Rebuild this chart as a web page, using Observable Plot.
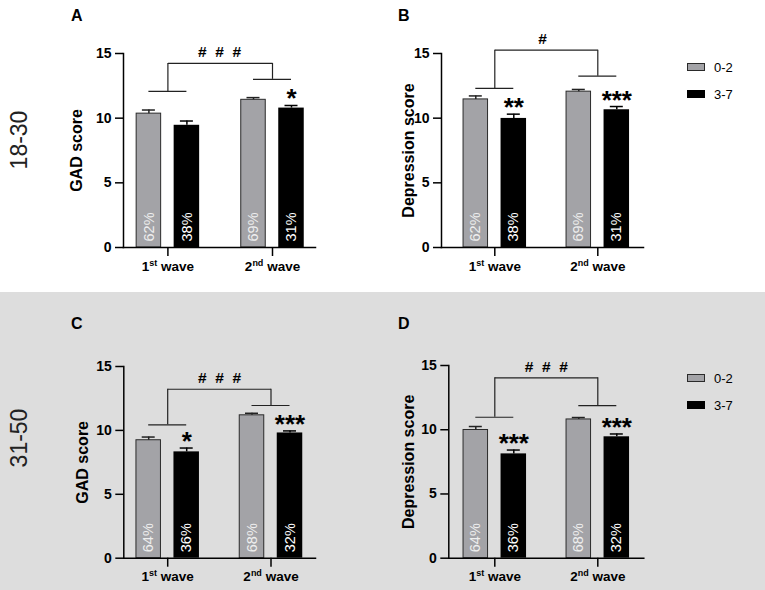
<!DOCTYPE html>
<html>
<head>
<meta charset="utf-8">
<script src="https://cdn.jsdelivr.net/npm/d3@7"></script>
<script src="https://cdn.jsdelivr.net/npm/@observablehq/plot@0.6"></script>
<style>
  body { margin: 0; background: #fff; font-family: "Liberation Sans", Arial, sans-serif; }
  #root { position: relative; width: 765px; height: 590px; overflow: hidden; }
  .band { position: absolute; left: 0; top: 292px; width: 765px; height: 298px; background: #dddddd; }
  .panel { position: absolute; }
  .letter { position: absolute; font-weight: bold; font-size: 16px; line-height: 16px; color: #000; }
  .row { position: absolute; font-size: 23px; line-height: 23px; white-space: nowrap; color: #222;
         transform: translate(-50%, -50%) rotate(-90deg); }
  .sw { position: absolute; width: 18px; height: 8px; box-sizing: border-box; }
  .lt { position: absolute; font-size: 13px; line-height: 13px; color: #000; transform: translateY(-50%); }
  g[aria-label="y-axis label"] text { font-size: 16px; }
</style>
</head>
<body>
<div id="root"><div class="band"></div></div>
<script>
// ---------- data ----------
const waves = ["1st wave", "2nd wave"];
const groups = ["0-2", "3-7"];
const groupColors = ["#a3a3a7", "#000000"];
const ageGroups = ["18-30", "31-50"];
const panelLetters = ["A", "B", "C", "D"];
const yLabels = ["GAD score", "Depression score", "GAD score", "Depression score"];
const yTicks = [0, 5, 10, 15];
// per panel, per wave
const mean02 = [[10.35, 11.42], [11.45, 12.05], [9.23, 11.18], [9.98, 10.80]];
const se02   = [[0.28, 0.17], [0.27, 0.17], [0.25, 0.16], [0.27, 0.15]];
const mean37 = [[9.45, 10.78], [9.98, 10.65], [8.32, 9.80], [8.12, 9.45]];
const se37   = [[0.33, 0.20], [0.33, 0.25], [0.30, 0.16], [0.30, 0.22]];
const pct02  = [["62%", "69%"], ["62%", "69%"], ["64%", "68%"], ["64%", "68%"]];
const pct37  = [["38%", "31%"], ["38%", "31%"], ["36%", "32%"], ["36%", "32%"]];
const stars37 = [["", "*"], ["**", "***"], ["*", "***"], ["***", "***"]];
const bracketWave = [[12.07, 13.0], [12.3, 13.25], [10.44, 11.95], [10.97, 11.88]];
const bracketTop = [14.23, 15.26, 13.22, 14.04];
const waveEffect = ["#\u00a0\u00a0#\u00a0\u00a0#", "#", "#\u00a0\u00a0#\u00a0\u00a0#", "#\u00a0\u00a0#\u00a0\u00a0#"];

// ---------- layout (pixels) ----------
const layout = [
  {left: 0,   top: 0,   width: 380, height: 280, mt: 53, mb: 33,   ax: 123,   end: 315,   c1: 167.4, c2: 272,   labelOffset: 53},
  {left: 380, top: 0,   width: 385, height: 280, mt: 53, mb: 33,   ax: 441,   end: 643,   c1: 494.3, c2: 597.3, labelOffset: 39},
  {left: 0,   top: 280, width: 380, height: 310, mt: 86, mb: 32.3, ax: 123.3, end: 315,   c1: 167.2, c2: 270.5, labelOffset: 47},
  {left: 380, top: 280, width: 385, height: 310, mt: 85, mb: 32.3, ax: 448.3, end: 643.3, c1: 494.3, c2: 597.3, labelOffset: 46.6}
];
const letterPos = [[71, 8], [398, 8], [71, 316], [398, 316]];
const rowPos = [[19, 140], [19, 438]];
const legendPos = [null, [687, 63], null, [687, 374]];
const bw = 25.5, off = 19, cap = 13;

const root = document.getElementById("root");
const font = "'Liberation Sans', Arial, sans-serif";

function bandOptions(L) {
  const step = L.c2 - L.c1;
  const oL = L.c1 - L.ax - bw / 2, oR = L.end - L.c2 - bw / 2;
  return {paddingInner: 1 - bw / step, paddingOuter: (oL + oR) / (2 * step), align: oL / (oL + oR)};
}

layout.forEach((L, p) => {
  const rows = waves.flatMap((w, i) => [
    {wave: w, group: groups[0], mean: mean02[p][i], se: se02[p][i], pct: pct02[p][i], star: ""},
    {wave: w, group: groups[1], mean: mean37[p][i], se: se37[p][i], pct: pct37[p][i], star: stars37[p][i]}
  ]);
  const low = rows.filter(d => d.group === groups[0]);
  const high = rows.filter(d => d.group === groups[1]);
  const top = bracketTop[p];
  const brackets = waves.map((w, i) => ({wave: w, level: bracketWave[p][i], top}));
  const ext = -(2 * off - bw) / 2;
  const capIn = (bw - cap) / 2;

  const svg = Plot.plot({
    width: L.width,
    height: L.height,
    marginLeft: L.ax - L.left,
    marginRight: L.left + L.width - L.end,
    marginTop: L.mt,
    marginBottom: L.mb,
    style: {background: "transparent", overflow: "visible", fontFamily: font},
    x: {type: "band", domain: waves, round: false, ...bandOptions(L)},
    y: {domain: [0, 15]},
    color: {domain: groups, range: groupColors},
    marks: [
      Plot.barY(low, {x: "wave", y: "mean", fill: "group", dx: -off, stroke: "#2a2a2a", strokeWidth: 1, insetLeft: 0.5, insetRight: 0.5}),
      Plot.barY(high, {x: "wave", y: "mean", fill: "group", dx: off}),
      Plot.ruleX(low, {x: "wave", y1: "mean", y2: d => d.mean + d.se, dx: -off, stroke: "#222", strokeWidth: 1.5}),
      Plot.tickY(low, {x: "wave", y: d => d.mean + d.se, dx: -off, insetLeft: capIn, insetRight: capIn, stroke: "#222", strokeWidth: 1.5}),
      Plot.ruleX(high, {x: "wave", y1: "mean", y2: d => d.mean + d.se, dx: off, stroke: "#000", strokeWidth: 1.5}),
      Plot.tickY(high, {x: "wave", y: d => d.mean + d.se, dx: off, insetLeft: capIn, insetRight: capIn, stroke: "#000", strokeWidth: 1.5}),
      Plot.text(low, {x: "wave", text: "pct", frameAnchor: "bottom", rotate: -90, textAnchor: "start", lineAnchor: "middle", dx: -off, dy: -6, fill: "#eeeeee", fontSize: 14.5}),
      Plot.text(high, {x: "wave", text: "pct", frameAnchor: "bottom", rotate: -90, textAnchor: "start", lineAnchor: "middle", dx: off, dy: -6, fill: "#ffffff", fontSize: 14.5}),
      Plot.text(high.filter(d => d.star), {x: "wave", y: d => d.mean + d.se, text: "star", dx: off, dy: 2, lineAnchor: "bottom", fontSize: 26, fontWeight: "bold", fill: "#000"}),
      Plot.tickY(brackets, {x: "wave", y: "level", insetLeft: ext, insetRight: ext, stroke: "#222", strokeWidth: 1.2}),
      Plot.ruleX(brackets, {x: "wave", y1: "level", y2: "top", stroke: "#222", strokeWidth: 1.2}),
      Plot.link([{from: waves[0], to: waves[1], top}], {x1: "from", x2: "to", y1: "top", y2: "top", stroke: "#222", strokeWidth: 1.2}),
      Plot.text([{top, label: waveEffect[p]}], {y: "top", text: "label", lineAnchor: "bottom", dy: -6, fontSize: 15.5, fontWeight: "bold", fill: "#000"}),
      Plot.axisY({ticks: yTicks, tickSize: 8, tickPadding: 4, fontSize: 14, fontWeight: "bold", strokeWidth: 1.5,
                  label: yLabels[p], labelAnchor: "center", labelOffset: L.labelOffset, labelArrow: false}),
      Plot.axisX({tickSize: 9, tickPadding: 4.5, fontSize: 13.5, fontWeight: "bold", strokeWidth: 1.5, label: null, tickFormat: d => d}),
      Plot.frame({anchor: "left", strokeWidth: 1.5}),
      Plot.frame({anchor: "bottom", strokeWidth: 1.5})
    ]
  });

  // superscript ordinals on the wave labels
  d3.select(svg).selectAll('g[aria-label="x-axis tick label"] text').each(function () {
    const m = this.textContent.match(/^(\d+)(st|nd|rd|th) (.*)$/);
    if (!m) return;
    const s = d3.select(this);
    s.text(null);
    s.append("tspan").text(m[1]);
    s.append("tspan").attr("font-size", "9px").attr("dy", "-5").text(m[2]);
    s.append("tspan").attr("dy", "5").text(" " + m[3]);
  });

  const div = document.createElement("div");
  div.className = "panel";
  div.style.left = L.left + "px";
  div.style.top = L.top + "px";
  div.appendChild(svg);
  root.appendChild(div);

  const lt = document.createElement("div");
  lt.className = "letter";
  lt.style.left = letterPos[p][0] + "px";
  lt.style.top = letterPos[p][1] + "px";
  lt.textContent = panelLetters[p];
  root.appendChild(lt);

  if (legendPos[p]) {
    const [lx, ly] = legendPos[p];
    groups.forEach((g, i) => {
      const sw = document.createElement("div");
      sw.className = "sw";
      sw.style.left = lx + "px";
      sw.style.top = (ly + i * 26.5) + "px";
      sw.style.background = groupColors[i];
      sw.style.border = "1px solid " + (i === 0 ? "#2a2a2a" : "#000");
      root.appendChild(sw);
      const t = document.createElement("div");
      t.className = "lt";
      t.style.left = (lx + 27) + "px";
      t.style.top = (ly + 4 + i * 26.5) + "px";
      t.textContent = g;
      root.appendChild(t);
    });
  }
});

ageGroups.forEach((a, i) => {
  const r = document.createElement("div");
  r.className = "row";
  r.style.left = rowPos[i][0] + "px";
  r.style.top = rowPos[i][1] + "px";
  r.textContent = a;
  root.appendChild(r);
});
</script>
</body>
</html>
